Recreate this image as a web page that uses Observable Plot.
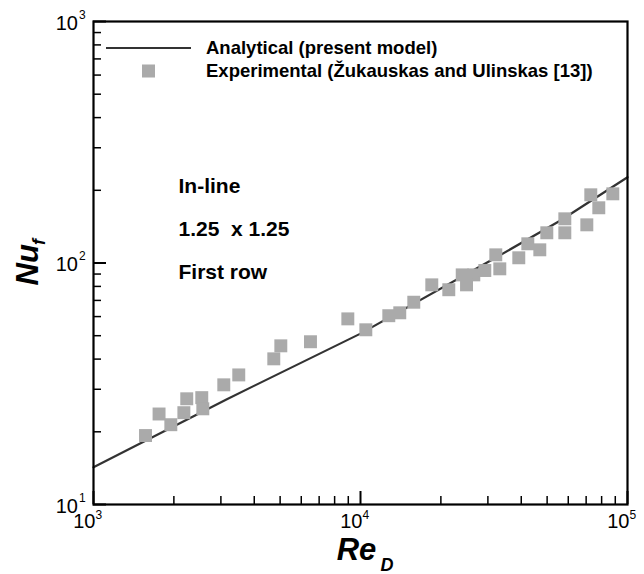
<!DOCTYPE html>
<html><head><meta charset="utf-8">
<script src="https://cdn.jsdelivr.net/npm/d3@7"></script>
<script src="https://cdn.jsdelivr.net/npm/@observablehq/plot@0.6"></script>
<style>
html,body{margin:0;padding:0;background:#fff;}
#chart{width:644px;height:574px;position:relative;}
svg text{font-family:"Liberation Sans",Arial,Helvetica,sans-serif;}
</style></head><body><div id="chart"></div>
<script>
// Experimental data (Žukauskas and Ulinskas)
const expRe = [1566, 1760, 1948, 2180, 2235, 2544, 2567, 3076, 3500, 4734, 5030, 6496, 8965, 10470, 12764, 14030, 15834, 18493, 21413, 24040, 26570, 24950, 29210, 32116, 33245, 39161, 42330, 46942, 49866, 58244, 58244, 70413, 72864, 78072, 88103];
const expNu = [19.3, 23.7, 21.4, 24.0, 27.4, 27.7, 24.9, 31.3, 34.4, 40.1, 45.4, 47.2, 58.7, 52.9, 60.5, 62.2, 68.8, 81.2, 77.5, 89.3, 89.3, 81.2, 93.1, 108.1, 94.6, 105.1, 120.1, 113.4, 133.4, 152.4, 133.4, 143.9, 191.6, 169.3, 193.4];
// Analytical model curve
const modelRe = [1000, 3160, 10000, 31570, 56100, 100000];
const modelNu = [14.25, 27.3, 51.0, 104.1, 150.0, 226.6];
// Ticks
const xMajor = [1e3, 1e4, 1e5];
const xMinor = [2e3, 3e3, 4e3, 5e3, 6e3, 7e3, 8e3, 9e3, 2e4, 3e4, 4e4, 5e4, 6e4, 7e4, 8e4, 9e4];
const yMajor = [10, 100, 1000];
const yMinor = [20, 30, 40, 50, 60, 70, 80, 90, 200, 300, 400, 500, 600, 700, 800, 900];
const xExp = ["3", "4", "5"];
const yExp = ["1", "2", "3"];
const legendLabels = ["Analytical (present model)", "Experimental (\u017Dukauskas and Ulinskas [13])"];
const notes = ["In-line", "1.25\u00a0\u00a0x 1.25", "First row"];

const exp = expRe.map((r, i) => ({Re: r, Nu: expNu[i]}));
const model = modelRe.map((r, i) => ({Re: r, Nu: modelNu[i]}));
const font = '"Liberation Sans", Arial, Helvetica, sans-serif';
const noteDy = [156.6, 199.6, 243];

const plot = Plot.plot({
  width: 644, height: 574,
  marginLeft: 93, marginRight: 17, marginTop: 21, marginBottom: 70,
  style: {fontFamily: font, background: "white", color: "black"},
  x: {type: "log", domain: [1e3, 1e5]},
  y: {type: "log", domain: [10, 1000]},
  marks: [
    Plot.axisX({ticks: xMinor, anchor: "bottom", tickSize: -8, stroke: "black", strokeWidth: 1.5, tickFormat: () => "", label: null}),
    Plot.axisX({ticks: xMajor, anchor: "bottom", tickSize: -13, stroke: "black", strokeWidth: 2, tickFormat: () => "", label: null}),
    Plot.axisY({ticks: yMinor, anchor: "left", tickSize: -8, stroke: "black", strokeWidth: 1.5, tickFormat: () => "", label: null}),
    Plot.axisY({ticks: yMajor, anchor: "left", tickSize: -13, stroke: "black", strokeWidth: 2, tickFormat: () => "", label: null}),
    Plot.line(model, {x: "Re", y: "Nu", stroke: "#333333", strokeWidth: 2.2}),
    Plot.dot(exp, {x: "Re", y: "Nu", symbol: "square", r: 7.3, fill: "#aaaaaa", stroke: "none"}),
    Plot.frame({stroke: "black", strokeWidth: 2.2}),
    // tick labels
    Plot.text(xMajor, {x: d => d, frameAnchor: "bottom", text: () => "10", textAnchor: "end", dx: 2, dy: 23, fontSize: 20, fill: "black"}),
    Plot.text(xMajor, {x: d => d, frameAnchor: "bottom", text: (d, i) => xExp[i], textAnchor: "start", dx: 2, dy: 14.5, fontSize: 12, fill: "black"}),
    Plot.text(yMajor, {y: d => d, frameAnchor: "left", text: () => "10", textAnchor: "end", dx: -15.5, dy: 1.6, fontSize: 20, fill: "black"}),
    Plot.text(yMajor, {y: d => d, frameAnchor: "left", text: (d, i) => yExp[i], textAnchor: "start", dx: -14.5, dy: -6.5, fontSize: 12, fill: "black"}),
    // axis titles
    Plot.text(["Nu"], {frameAnchor: "left", text: d => d, rotate: -90, textAnchor: "start", dx: -65.6, dy: 22.5, fontSize: 31, fontWeight: "bold", fontStyle: "italic", fill: "black"}),
    Plot.text(["f"], {frameAnchor: "left", text: d => d, rotate: -90, textAnchor: "start", dx: -54, dy: -18, fontSize: 18, fontWeight: "bold", fontStyle: "italic", fill: "black"}),
    Plot.text(["Re"], {frameAnchor: "bottom", text: d => d, dx: -4, dy: 55, fontSize: 31, fontWeight: "bold", fontStyle: "italic", fill: "black"}),
    Plot.text(["D"], {frameAnchor: "bottom", text: d => d, textAnchor: "start", dx: 20, dy: 66, fontSize: 18, fontWeight: "bold", fontStyle: "italic", fill: "black"}),
    // annotations
    ...notes.map((t, i) => Plot.text([t], {frameAnchor: "top-left", text: d => d, textAnchor: "start", dx: 85, dy: noteDy[i], fontSize: 21, fontWeight: "bold", fill: "black"}))
  ]
});

document.getElementById("chart").appendChild(plot);

// Legend inside the frame
const svg = d3.select(plot);
const lg = svg.append("g").attr("class", "legend").attr("text-anchor", "start");
lg.append("line").attr("x1", 106).attr("x2", 191).attr("y1", 48).attr("y2", 48)
  .attr("stroke", "#333333").attr("stroke-width", 2.2);
lg.append("rect").attr("x", 142).attr("y", 64.5).attr("width", 13).attr("height", 13).attr("fill", "#aaaaaa");
legendLabels.forEach((t, i) => {
  lg.append("text").attr("x", 206).attr("y", i === 0 ? 54 : 77)
    .attr("text-anchor", "start")
    .attr("font-size", 18.5).attr("font-weight", "bold").attr("fill", "black")
    .style("font-family", font).text(t);
});
</script></body></html>
